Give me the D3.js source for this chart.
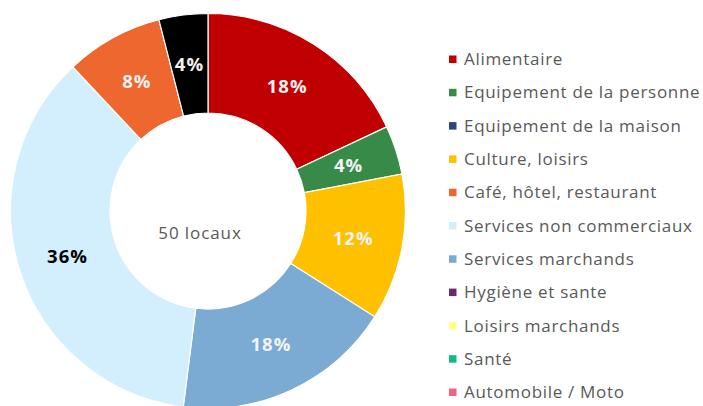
<!DOCTYPE html>
<html>
<head>
<meta charset="utf-8">
<script src="https://cdn.jsdelivr.net/npm/d3@7"></script>
<style>
  body { margin: 0; background: #fff; }
  text { font-family: "Open Sans", "Noto Sans", sans-serif; }
</style>
</head>
<body>
<svg id="chart" width="703" height="406"></svg>
<script>
// slices, clockwise from 12 o'clock (counts out of 50 locaux)
var sliceNames = ["Alimentaire", "Equipement de la personne", "Culture, loisirs",
  "Services marchands", "Services non commerciaux", "Café, hôtel, restaurant", "Autre"];
var sliceValues = [9, 2, 6, 9, 18, 4, 2];
var sliceColors = ["#C00000", "#378A47", "#FFC000", "#7BABD3", "#D3EFFD", "#ED672F", "#000000"];

// legend entries
var legendNames = ["Alimentaire", "Equipement de la personne", "Equipement de la maison",
  "Culture, loisirs", "Café, hôtel, restaurant", "Services non commerciaux",
  "Services marchands", "Hygiène et sante", "Loisirs marchands", "Santé", "Automobile / Moto"];
var legendColors = ["#C00000", "#378A47", "#2A4679", "#FFC000", "#ED672F", "#D3EFFD",
  "#7BABD3", "#6B2A6E", "#FFFF8A", "#14B98A", "#F0648A"];

var total = d3.sum(sliceValues);

var svg = d3.select("#chart");
var cx = 208, cy = 211, outerR = 197.5, innerR = 98;

var pie = d3.pie().sort(null).value(d => d.v);
var arc = d3.arc().innerRadius(innerR).outerRadius(outerR);

var data = sliceNames.map((n, i) => ({ name: n, v: sliceValues[i], color: sliceColors[i] }));

var g = svg.append("g").attr("transform", `translate(${cx},${cy})`);

var arcs = pie(data);

g.selectAll("path")
  .data(arcs)
  .join("path")
  .attr("d", arc)
  .attr("fill", d => d.data.color)
  .attr("stroke", "#fff")
  .attr("stroke-width", 1.2);

g.selectAll("text.lbl")
  .data(arcs)
  .join("text")
  .attr("class", "lbl")
  .attr("transform", d => `translate(${arc.centroid(d)})`)
  .attr("text-anchor", "middle")
  .attr("dy", "0.36em")
  .attr("font-size", 18.5)
  .attr("font-weight", "bold")
  .attr("letter-spacing", 1)
  .attr("fill", d => d.data.name === "Services non commerciaux" ? "#000" : "#F2F2F2")
  .text(d => Math.round(d.data.v / total * 100) + "%");

g.append("text")
  .attr("x", -8)
  .attr("y", 22)
  .attr("dy", "0.36em")
  .attr("text-anchor", "middle")
  .attr("font-size", 17)
  .attr("letter-spacing", 0.9)
  .attr("fill", "#595959")
  .text(total + " locaux");

// legend
var ly = d3.scalePoint().domain(legendNames).range([59, 392]);

var leg = svg.append("g").selectAll("g")
  .data(legendNames)
  .join("g")
  .attr("transform", d => `translate(449,${ly(d)})`);

leg.append("rect")
  .attr("x", 0).attr("y", -3.5)
  .attr("width", 7.5).attr("height", 7.5)
  .attr("fill", (d, i) => legendColors[i]);

leg.append("text")
  .attr("x", 15)
  .attr("dy", "0.36em")
  .attr("font-size", 17)
  .attr("letter-spacing", 0.7)
  .attr("fill", "#595959")
  .text(d => d);
</script>
</body>
</html>
